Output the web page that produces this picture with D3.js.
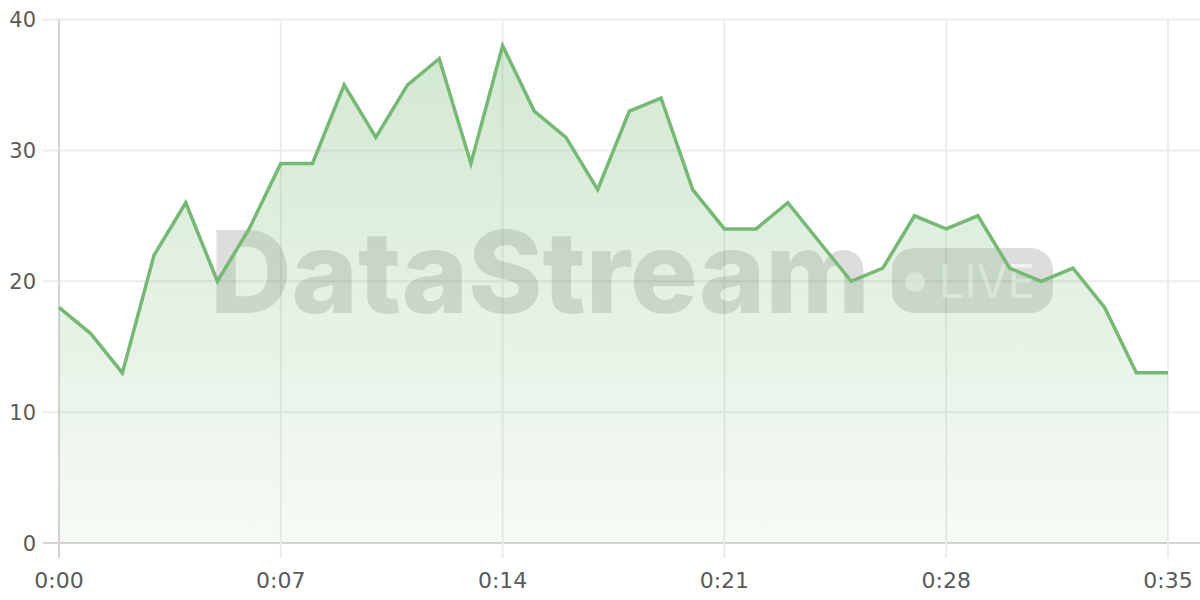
<!DOCTYPE html>
<html><head><meta charset="utf-8">
<script src="https://cdn.jsdelivr.net/npm/d3@7"></script>
<style>html,body{margin:0;padding:0;background:#fff;}svg{display:block;}</style>
</head><body>
<svg id="chart" width="1200" height="600"></svg>
<script>
const seconds = [0,1,2,3,4,5,6,7,8,9,10,11,12,13,14,15,16,17,18,19,20,21,22,23,24,25,26,27,28,29,30,31,32,33,34,35];
const values  = [18,16,13,22,26,20,24,29,29,35,31,35,37,29,38,33,31,27,33,34,27,24,24,26,23,20,21,25,24,25,21,20,21,18,13,13];
const xTicks = [0,7,14,21,28,35];
const yTicks = [0,10,20,30,40];
const watermarkText = "DataStream";
const badgeText = "LIVE";

const svg = d3.select("#chart");
const x = d3.scaleLinear().domain([0,35]).range([59,1168]);
const y = d3.scaleLinear().domain([0,40]).range([543,19.5]);
const fmt = s => Math.floor(s/60) + ":" + String(s%60).padStart(2,"0");
const font = "'DejaVu Sans', sans-serif";

const defs = svg.append("defs");
const grad = defs.append("linearGradient").attr("id","areaGrad").attr("x1",0).attr("x2",0)
  .attr("gradientUnits","userSpaceOnUse").attr("y1", y(40)).attr("y2", y(0));
grad.append("stop").attr("offset","0%").attr("stop-color","#7dbd7b").attr("stop-opacity",0.36);
grad.append("stop").attr("offset","100%").attr("stop-color","#7dbd7b").attr("stop-opacity",0.07);

// grid
const grid = svg.append("g");
grid.selectAll(".hg").data(yTicks).join("line")
  .attr("x1",43).attr("x2",1200).attr("y1",d=>y(d)).attr("y2",d=>y(d))
  .attr("stroke", d => d===0 ? "#d4d4d4" : "#ececec").attr("stroke-width",2);
grid.selectAll(".vg").data(xTicks).join("line")
  .attr("x1",d=>x(d)).attr("x2",d=>x(d)).attr("y1",y(40)).attr("y2",558)
  .attr("stroke", d => d===0 ? "#d4d4d4" : "#ececec").attr("stroke-width",2);

// watermark
const wm = svg.append("g");
wm.append("text").attr("x",210).attr("y",313).text(watermarkText)
  .attr("font-family","Inter, 'Open Sans', sans-serif").attr("font-weight",800).attr("font-size",114)
  .attr("textLength",660).attr("lengthAdjust","spacingAndGlyphs")
  .attr("fill","#000").attr("fill-opacity",0.135);
wm.append("rect").attr("x",892).attr("y",248).attr("width",161).attr("height",65).attr("rx",22)
  .attr("fill","#000").attr("fill-opacity",0.135);
wm.append("circle").attr("cx",915).attr("cy",282).attr("r",10).attr("fill","#fff").attr("fill-opacity",0.6);
wm.append("text").attr("x",939).attr("y",298).text(badgeText)
  .attr("font-family","Inter, sans-serif").attr("font-weight",400).attr("font-size",47)
  .attr("textLength",96).attr("lengthAdjust","spacingAndGlyphs")
  .attr("fill","#fff").attr("fill-opacity",0.6);

// area + line
const area = d3.area().x((d,i)=>x(seconds[i])).y0(y(0)).y1(d=>y(d));
const line = d3.line().x((d,i)=>x(seconds[i])).y(d=>y(d));
svg.append("path").datum(values).attr("d",area).attr("fill","url(#areaGrad)");
svg.append("path").datum(values).attr("d",line).attr("fill","none")
  .attr("stroke","#75b974").attr("stroke-width",3.5).attr("stroke-linejoin","miter");

// axis labels
svg.append("g").selectAll("text").data(yTicks).join("text")
  .attr("x",36).attr("y",d=>y(d)).attr("dy","0.36em").attr("text-anchor","end")
  .attr("font-family",font).attr("font-size",21).attr("fill","#5a5a5a").text(d=>d);
svg.append("g").selectAll("text").data(xTicks).join("text")
  .attr("x",d=>x(d)).attr("y",588).attr("text-anchor","middle")
  .attr("font-family",font).attr("font-size",22).attr("fill","#5a5a5a").text(d=>fmt(d));
</script>
</body></html>
